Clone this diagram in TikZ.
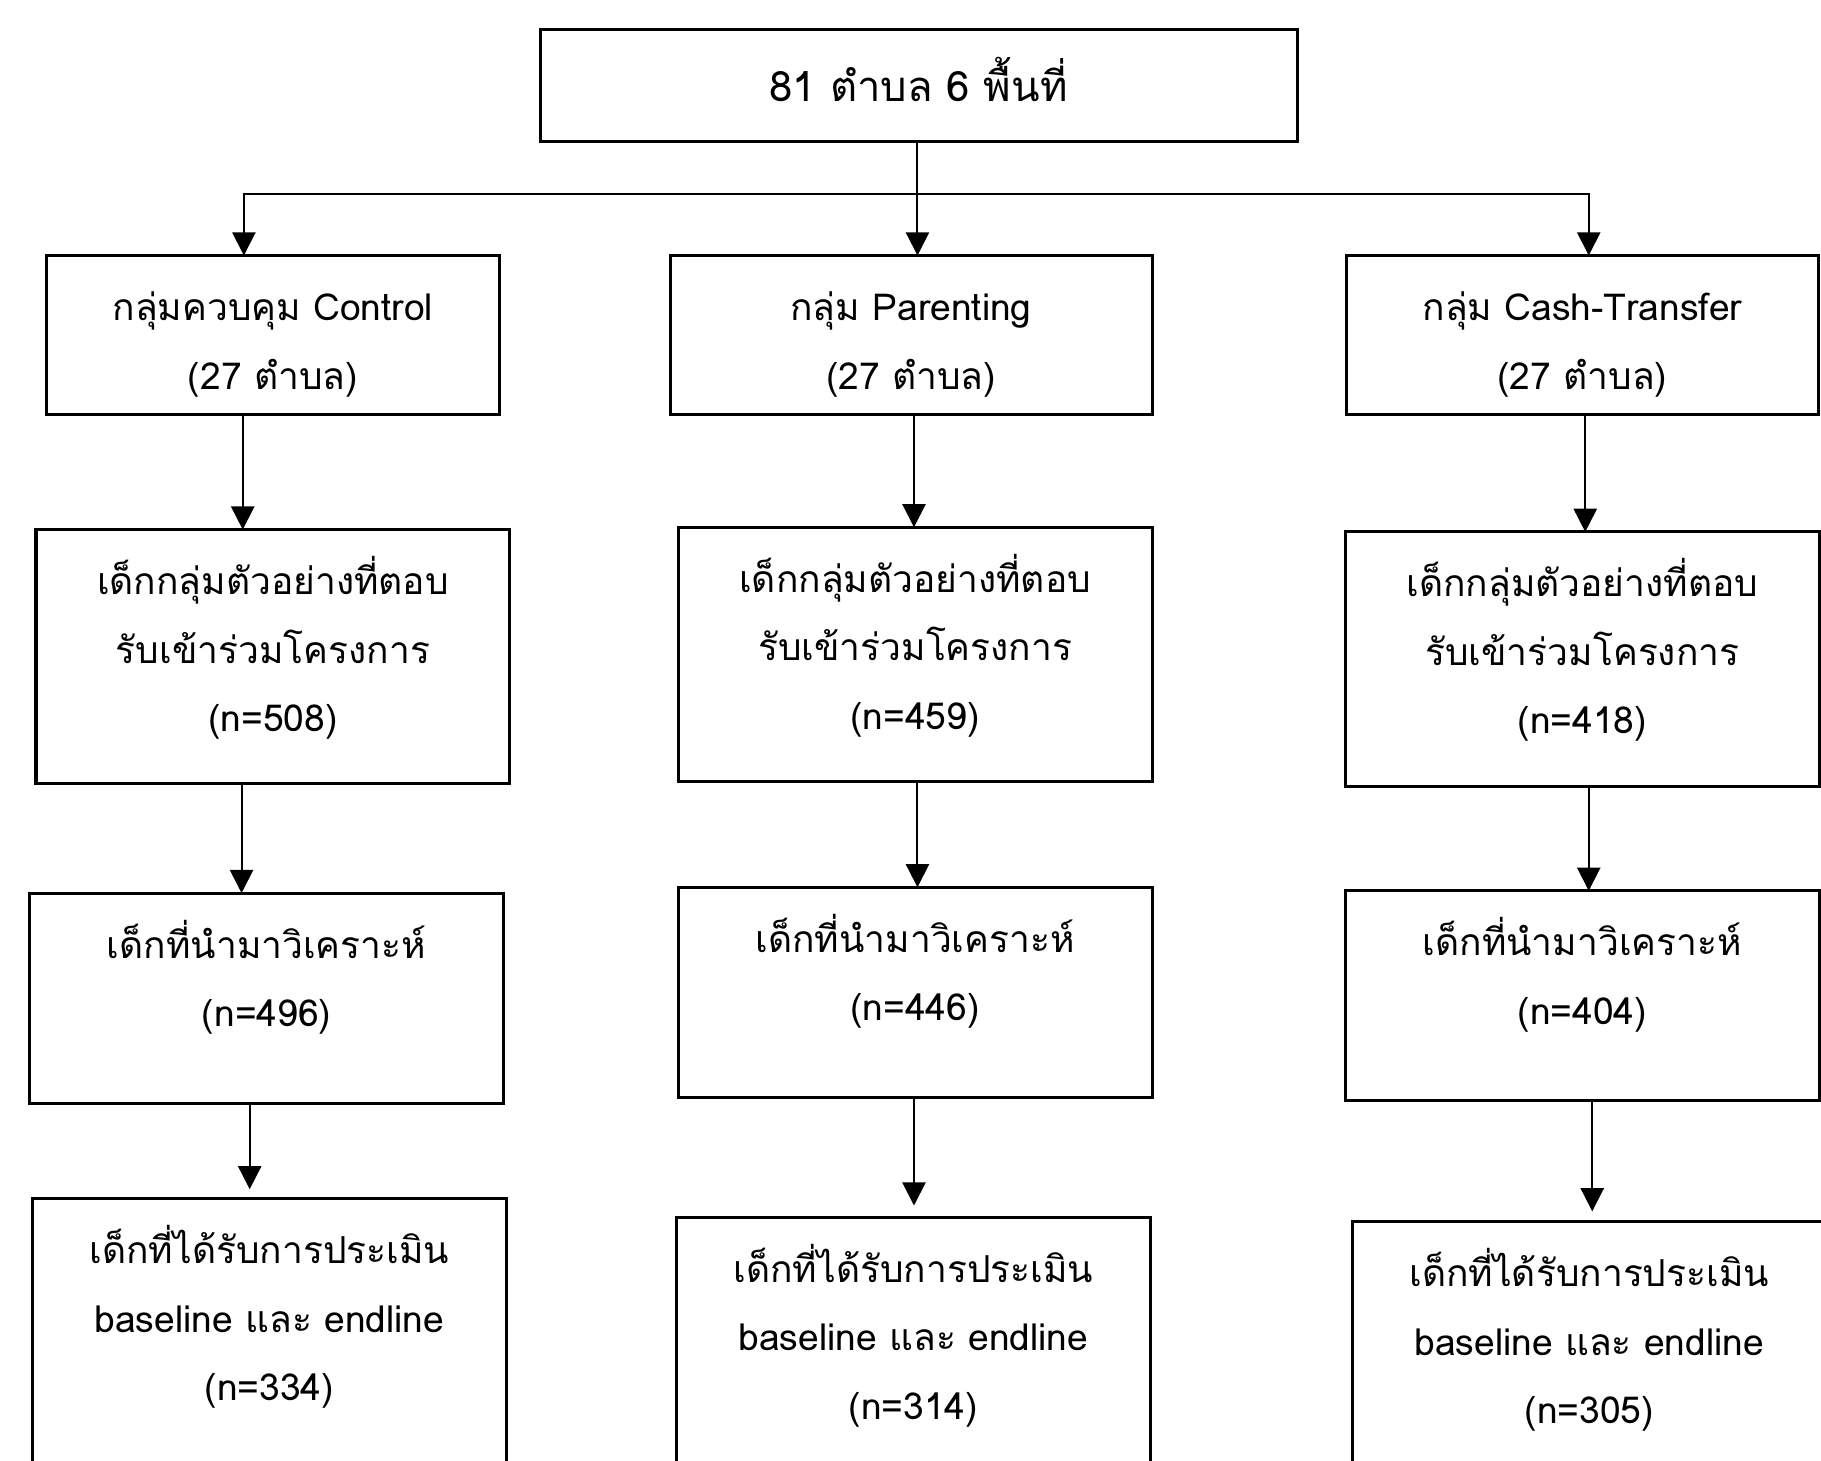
\documentclass[tikz,border=0pt]{standalone}
\usepackage{fontspec}
\newfontfamily\thaifont[Script=Thai]{Loma}
\usetikzlibrary{positioning, arrows.meta}
\tikzstyle{box} = [rectangle, draw=black, line width=1.3pt, outer sep=0pt, inner sep=0pt, text width=204pt, align=center, text height=28pt]
\tikzstyle{area} = [box, text width=326pt, text height=31pt, text depth=17.5pt, font=\thaifont\fontsize{18}{24}\selectfont]
\tikzstyle{group} = [box, text depth=40.5pt]
\tikzstyle{sample} = [box, text depth=81.5pt]
\tikzstyle{analysed} = [box, text depth=62.5pt]
\tikzstyle{assessed} = [box, text depth=102pt]
\tikzstyle{arrow} = [line width=0.85pt, -{Triangle[length=10pt, width=10pt]}]

\begin{document}
\begin{tikzpicture}[x=0.5pt, y=-0.5pt, font=\thaifont\fontsize{16}{29.5}\selectfont]
\useasboundingbox (0,0) rectangle (1568,1258);
\node (area) [area, anchor=north] at (791,25) {81 ตำบล 6 พื้นที่};
\node (c2g) [group, text width=207.5pt, below=49pt of area, xshift=-3.25pt] {กลุ่ม Parenting\\(27 ตำบล)};
\node (c1g) [group, text width=195pt, left=73.5pt of c2g] {กลุ่มควบคุม Control\\(27 ตำบล)};
\node (c3g) [group, text width=203.5pt, right=83.5pt of c2g] {กลุ่ม Cash-Transfer\\(27 ตำบล)};

\node (c1s) [sample, below=49.5pt of c1g] {เด็กกลุ่มตัวอย่างที่ตอบ\\รับเข้าร่วมโครงการ\\(n=508)};
\node (c1a) [analysed, below=47pt of c1s, xshift=-2.75pt] {เด็กที่นำมาวิเคราะห์\\(n=496)};
\node (c1e) [assessed, below=41pt of c1a, xshift=1.25pt] {เด็กที่ได้รับการประเมิน\\baseline และ endline\\(n=334)};

\node (c2s) [sample, below=48.5pt of c2g, xshift=1.75pt] {เด็กกลุ่มตัวอย่างที่ตอบ\\รับเข้าร่วมโครงการ\\(n=459)};
\node (c2a) [analysed, below=45.5pt of c2s] {เด็กที่นำมาวิเคราะห์\\(n=446)};
\node (c2e) [assessed, below=51.5pt of c2a, xshift=-0.75pt] {เด็กที่ได้รับการประเมิน\\baseline และ endline\\(n=314)};

\node (c3s) [sample, below=50.5pt of c3g] {เด็กกลุ่มตัวอย่างที่ตอบ\\รับเข้าร่วมโครงการ\\(n=418)};
\node (c3a) [analysed, below=45pt of c3s] {เด็กที่นำมาวิเคราะห์\\(n=404)};
\node (c3e) [assessed, below=52pt of c3a, xshift=3pt] {เด็กที่ได้รับการประเมิน\\baseline และ endline\\(n=305)};

\coordinate (fork) at (790,167);
\draw [arrow] (area.south -| 790,0) -- (c2g.north -| 790,0);
\draw [arrow] (fork) -| (c1g.north -| 210,0);
\draw [arrow] (fork) -| (c3g.north -| 1368,0);

\draw [arrow] (c1g.south -| 209,0) -- (c1s.north -| 209,0);
\draw [arrow] (c1s.south -| 208,0) -- (c1a.north -| 208,0);
\draw [arrow, shorten >=4pt] (c1a.south -| 215,0) -- (c1e.north -| 215,0);

\draw [arrow] (c2g.south -| 787,0) -- (c2s.north -| 787,0);
\draw [arrow] (c2s.south -| 790,0) -- (c2a.north -| 790,0);
\draw [arrow, shorten >=5pt] (c2a.south -| 787,0) -- (c2e.north -| 787,0);

\draw [arrow] (c3g.south -| 1365,0) -- (c3s.north -| 1365,0);
\draw [arrow] (c3s.south -| 1368,0) -- (c3a.north -| 1368,0);
\draw [arrow, shorten >=4.5pt] (c3a.south -| 1371,0) -- (c3e.north -| 1371,0);
\end{tikzpicture}
\end{document}
